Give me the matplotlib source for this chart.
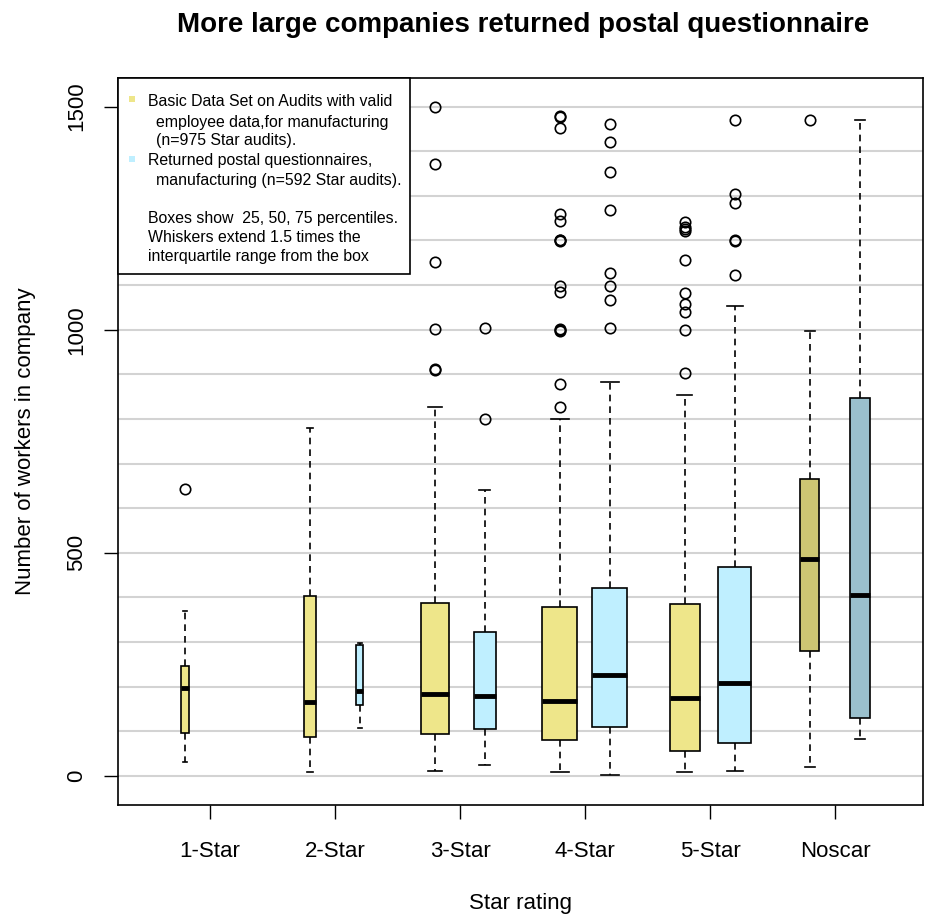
import matplotlib.pyplot as plt
from matplotlib.patches import Rectangle

plt.rcParams['font.family'] = ['Liberation Sans', 'DejaVu Sans']

categories = ['1-Star', '2-Star', '3-Star', '4-Star', '5-Star', 'Noscar']

# Basic data set on audits (yellow boxes)
audit_whislo = [31, 8, 11, 8, 8, 21]
audit_q1 = [96, 87, 93, 80, 57, 280]
audit_med = [198, 166, 184, 169, 175, 487]
audit_q3 = [247, 404, 388, 379, 385, 665]
audit_whishi = [370, 780, 826, 801, 854, 998]
audit_fliers = [
    [643],
    [],
    [910, 913, 1001, 1152, 1371, 1500],
    [827, 879, 998, 1000, 1001, 1084, 1098, 1199, 1201, 1202, 1243, 1259, 1452, 1476, 1479],
    [902, 1000, 1040, 1057, 1083, 1156, 1222, 1226, 1229, 1241],
    [1469],
]

# Returned postal questionnaires (blue boxes), none for 1-Star
postal_whislo = [None, 107, 25, 2, 11, 82]
postal_q1 = [None, 158, 106, 110, 73, 130]
postal_med = [None, 191, 179, 227, 208, 405]
postal_q3 = [None, 293, 323, 421, 469, 848]
postal_whishi = [None, 299, 640, 883, 1053, 1469]
postal_fliers = [
    None,
    [],
    [801, 1004],
    [1004, 1066, 1099, 1128, 1269, 1354, 1420, 1462],
    [1122, 1199, 1201, 1285, 1303, 1469],
    [],
]

# box widths in px (varwidth look)
audit_w = [8, 12, 28, 35, 30, 19]
postal_w = [0, 7, 22, 35, 33, 20]
px = 125.0  # px per category

fig = plt.figure(figsize=(9.28, 9.17), dpi=100)
ax = fig.add_axes([118 / 928, 1 - 805 / 917, (923 - 118) / 928, (805 - 78) / 917])

stats, pos, widths, colors = [], [], [], []
for i in range(len(categories)):
    stats.append(dict(whislo=audit_whislo[i], q1=audit_q1[i], med=audit_med[i],
                      q3=audit_q3[i], whishi=audit_whishi[i], fliers=audit_fliers[i]))
    pos.append(i + 1 - 0.2)
    widths.append(audit_w[i] / px)
    colors.append('#CDC673' if categories[i] == 'Noscar' else '#EEE68A')
    if postal_med[i] is not None:
        stats.append(dict(whislo=postal_whislo[i], q1=postal_q1[i], med=postal_med[i],
                          q3=postal_q3[i], whishi=postal_whishi[i], fliers=postal_fliers[i]))
        pos.append(i + 1 + 0.2)
        widths.append(postal_w[i] / px)
        colors.append('#9AC0CD' if categories[i] == 'Noscar' else '#BFEFFF')

for y in range(0, 1600, 100):
    ax.axhline(y, color='#D3D3D3', lw=1.5, zorder=0)

bp = ax.bxp(stats, positions=pos, widths=widths, capwidths=[w * 0.5 for w in widths],
            patch_artist=True,
            boxprops=dict(edgecolor='black', linewidth=1.2),
            whiskerprops=dict(color='black', linewidth=1.2, linestyle=(0, (4, 3))),
            capprops=dict(color='black', linewidth=1.2),
            medianprops=dict(color='black', linewidth=3.5, solid_capstyle='butt'),
            flierprops=dict(marker='o', markerfacecolor='none', markeredgecolor='black',
                            markersize=7.5, markeredgewidth=1.2),
            manage_ticks=False, zorder=2)
for box, c in zip(bp['boxes'], colors):
    box.set_facecolor(c)

ax.set_xlim(1 - 92 / px, 1 + 713 / px)
ax.set_ylim((776 - 805) / 0.4463, (776 - 78) / 0.4463)
ax.set_xticks(range(1, len(categories) + 1))
ax.set_xticklabels(categories, fontsize=16)
ax.set_yticks([0, 500, 1000, 1500])
ax.set_yticklabels(['0', '500', '1000', '1500'], fontsize=16, rotation=90, va='center')
ax.tick_params(axis='x', length=10, width=1, pad=16)
ax.tick_params(axis='y', length=10, width=1, pad=12)
for s in ax.spines.values():
    s.set_linewidth(1.2)

ax.set_xlabel('Star rating', fontsize=16, labelpad=22)
ax.set_ylabel('Number of workers in company', fontsize=16, labelpad=22)
fig.text(523 / 928, 1 - 25 / 917, 'More large companies returned postal questionnaire',
         fontsize=20, fontweight='bold', ha='center', va='center')

# legend box, in figure pixels
def fp(x, y):
    return x / 928, 1 - y / 917

leg = Rectangle(fp(118, 274), 292 / 928, 196 / 917, transform=fig.transFigure,
                facecolor='white', edgecolor='black', lw=1.2, zorder=5)
fig.patches.append(leg)
fig.patches.append(Rectangle(fp(129, 102), 6 / 928, 6 / 917, transform=fig.transFigure,
                             facecolor='#EEE68A', edgecolor='none', zorder=6))
fig.patches.append(Rectangle(fp(129, 162), 6 / 928, 6 / 917, transform=fig.transFigure,
                             facecolor='#BFEFFF', edgecolor='none', zorder=6))
legend_lines = [
    (148, 101, 'Basic Data Set on Audits with valid'),
    (156, 122, 'employee data,for manufacturing'),
    (156, 141, '(n=975 Star audits).'),
    (148, 160, 'Returned postal questionnaires,'),
    (156, 181, 'manufacturing (n=592 Star audits).'),
    (148, 218, 'Boxes show  25, 50, 75 percentiles.'),
    (148, 237, 'Whiskers extend 1.5 times the'),
    (148, 257, 'interquartile range from the box'),
]
for x, y, t in legend_lines:
    fig.text(*fp(x, y), t, fontsize=11.4, ha='left', va='center', zorder=7)

fig.savefig('out.png', dpi=100)
